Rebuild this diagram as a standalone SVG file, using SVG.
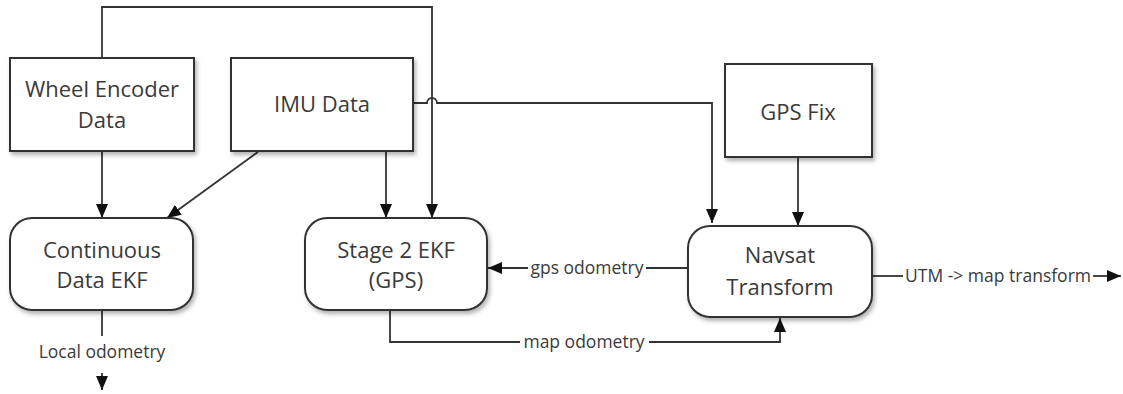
<svg xmlns="http://www.w3.org/2000/svg" width="1123" height="394" viewBox="0 0 1123 394">
<style>
.box{fill:#fff;stroke:#333;stroke-width:2;filter:url(#sh)}
.t{font-family:"Open Sans","Noto Sans",sans-serif;font-size:22px;fill:#3a3a3a;text-anchor:middle}
.l{font-family:"Open Sans","Noto Sans",sans-serif;font-size:17.5px;fill:#3a3a3a;text-anchor:middle}
.c{fill:none;stroke:#333;stroke-width:1.8}
</style>
<defs>
<filter id="sh" x="-10%" y="-10%" width="125%" height="130%">
<feDropShadow dx="2" dy="3" stdDeviation="2" flood-color="#000" flood-opacity="0.3"/>
</filter>
<marker id="ah2" viewBox="0 0 14 12" refX="14" refY="6" markerWidth="14" markerHeight="12" orient="auto" markerUnits="userSpaceOnUse">
<path d="M0,0 L14,6 L0,12 z" fill="#111"/>
</marker>
</defs>
<g id="connectors">
<path class="c" marker-end="url(#ah2)" d="M102,58 V7 H432 V218"/>
<path class="c" marker-end="url(#ah2)" d="M102,151 V218"/>
<path class="c" marker-end="url(#ah2)" d="M258,152 L167,218"/>
<path class="c" marker-end="url(#ah2)" d="M386,151 V218"/>
<path class="c" marker-end="url(#ah2)" d="M413,103 H427 A5,5 0 0 1 437,103 H712 V223"/>
<path class="c" marker-end="url(#ah2)" d="M798,157 V226"/>
<path class="c" d="M102,310 V336"/>
<path class="c" marker-end="url(#ah2)" d="M102,373 V390"/>
<text class="l" x="102" y="358">Local odometry</text>
<path class="c" d="M688,268 H646"/>
<path class="c" marker-end="url(#ah2)" d="M528,268 H488"/>
<text class="l" x="587" y="274">gps odometry</text>
<path class="c" d="M390,310 V342 H520"/>
<path class="c" marker-end="url(#ah2)" d="M649,342 H780 V318"/>
<text class="l" x="584" y="348">map odometry</text>
<path class="c" d="M872,276 H903"/>
<path class="c" marker-end="url(#ah2)" d="M1093,276 H1121"/>
<text class="l" x="998" y="282">UTM -&gt; map transform</text>
</g>
<g id="wheel">
<rect class="box" x="10" y="58" width="184" height="93"/>
<text class="t" x="102" y="97">Wheel Encoder</text>
<text class="t" x="102" y="128">Data</text>
</g>
<g id="imu">
<rect class="box" x="231" y="58" width="182" height="93"/>
<text class="t" x="322" y="112">IMU Data</text>
</g>
<g id="gpsfix">
<rect class="box" x="725" y="64" width="147" height="93"/>
<text class="t" x="798" y="120">GPS Fix</text>
</g>
<g id="continuous">
<rect class="box" x="10" y="218" width="183" height="92" rx="22" ry="22"/>
<text class="t" x="102" y="258">Continuous</text>
<text class="t" x="102" y="288">Data EKF</text>
</g>
<g id="stage2">
<rect class="box" x="305" y="218" width="182" height="92" rx="22" ry="22"/>
<text class="t" x="396" y="258">Stage 2 EKF</text>
<text class="t" x="396" y="288">(GPS)</text>
</g>
<g id="navsat">
<rect class="box" x="688" y="226" width="184" height="91" rx="22" ry="22"/>
<text class="t" x="780" y="263">Navsat</text>
<text class="t" x="780" y="295">Transform</text>
</g>
</svg>
